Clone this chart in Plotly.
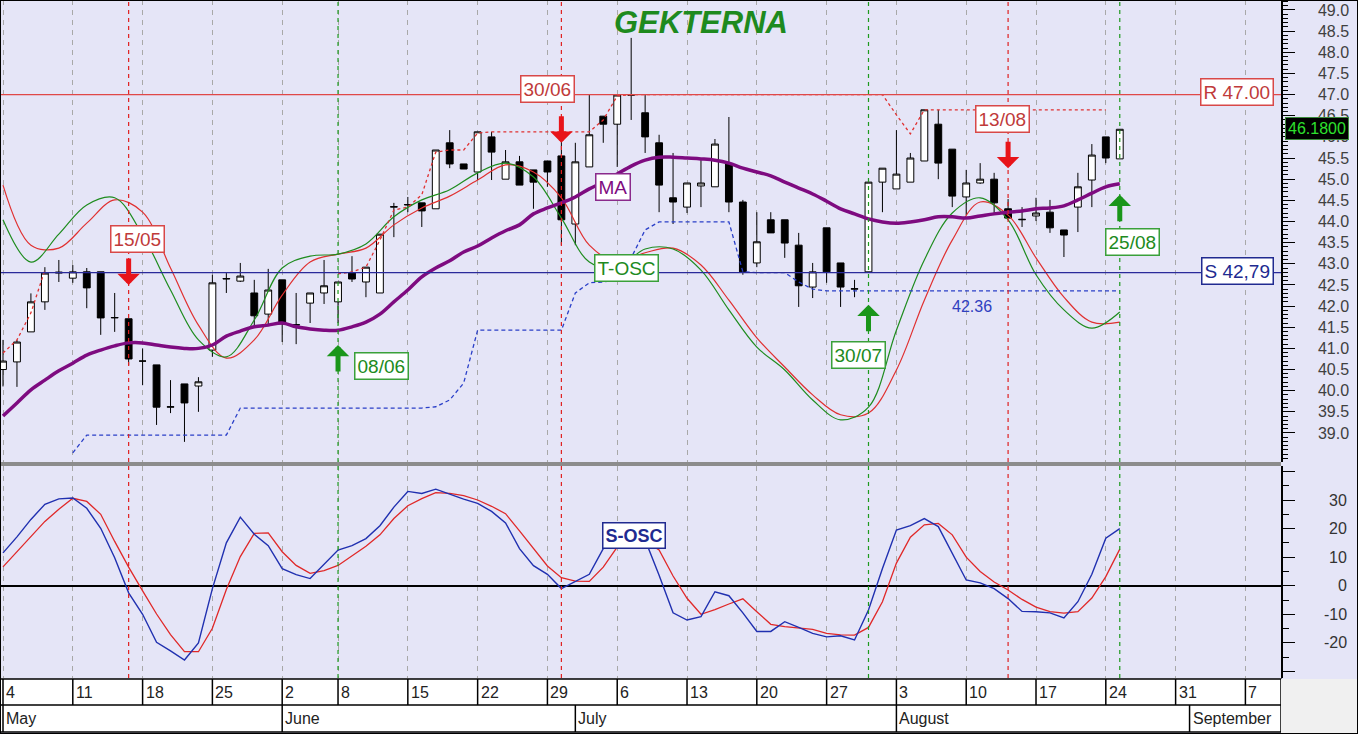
import plotly.graph_objs as go

# trading day index: 0 = Monday 4 May (June 1 holiday skipped)
week_idx = [0, 5, 10, 15, 20, 24, 29, 34, 39, 44, 49, 54, 59, 64, 69, 74, 79, 84, 89]
week_lbl = ['4', '11', '18', '25', '2', '8', '15', '22', '29', '6', '13', '20', '27',
            '3', '10', '17', '24', '31', '7']
month_idx = [0, 20, 41, 64, 85]
month_lbl = ['May', 'June', 'July', 'August', 'September']

opens = [40.50, 40.68, 41.39, 42.10, 42.78, 42.66, 42.81, 42.81, 41.72, 41.70,
         40.70, 40.61, 39.61, 40.16, 40.11, 40.96, 42.64, 42.59, 42.31, 41.81,
         42.62, 41.55, 42.07, 42.31, 42.10, 42.78, 42.57, 42.31, 44.34, 44.39,
         44.44, 44.30, 45.86, 45.36, 45.17, 46.00, 45.00, 45.41, 45.22, 45.43,
         45.55, 43.94, 45.29, 46.49, 46.30, 46.99, 46.57, 45.86, 44.56, 44.34,
         44.84, 44.82, 45.36, 44.46, 43.02, 44.04, 44.04, 43.44, 42.45, 43.85,
         43.02, 42.40, 42.81, 44.93, 44.77, 44.93, 45.43, 46.30, 45.71, 44.58,
         44.91, 45.00, 44.30, 44.04, 44.13, 44.22, 43.80, 44.34, 44.98, 46.00,
         45.48]
highs = [41.20, 41.20, 42.30, 42.92, 43.09, 42.97, 42.90, 42.81, 42.31, 41.70,
         41.00, 40.61, 40.25, 40.16, 40.32, 42.74, 42.78, 43.02, 42.62, 42.88,
         42.62, 42.31, 42.31, 43.09, 42.57, 43.18, 42.92, 43.70, 44.44, 44.58,
         44.44, 45.69, 46.16, 45.36, 46.12, 46.12, 45.69, 45.55, 45.22, 45.43,
         45.93, 45.86, 46.99, 46.49, 46.99, 48.34, 46.99, 46.05, 45.62, 44.91,
         45.45, 45.95, 46.47, 44.51, 44.22, 44.22, 44.04, 43.73, 43.02, 43.85,
         43.02, 42.62, 44.93, 45.26, 46.16, 45.62, 46.64, 46.64, 45.71, 45.22,
         45.38, 45.15, 44.53, 44.34, 44.56, 44.51, 43.80, 45.15, 45.83, 46.00,
         46.18]
lows = [40.10, 40.09, 41.39, 41.91, 42.57, 42.55, 41.95, 41.32, 41.39, 40.60,
        40.13, 39.19, 39.47, 38.79, 39.50, 40.80, 42.31, 42.57, 41.55, 41.55,
        41.15, 41.10, 41.60, 42.05, 41.60, 42.57, 42.21, 42.31, 43.63, 44.22,
        43.87, 44.30, 45.26, 45.24, 44.98, 44.98, 45.00, 44.86, 44.30, 44.82,
        43.44, 43.44, 45.29, 45.86, 45.29, 46.40, 45.62, 44.22, 43.94, 44.20,
        44.34, 44.82, 44.22, 42.74, 42.92, 43.73, 43.14, 41.98, 42.19, 42.55,
        41.98, 42.21, 42.81, 44.22, 44.77, 44.93, 45.43, 45.00, 44.34, 44.15,
        44.89, 44.20, 44.08, 43.87, 44.01, 43.73, 43.16, 43.75, 44.34, 45.38,
        45.48]
closes = [40.70, 41.15, 42.10, 42.78, 42.80, 42.81, 42.43, 41.72, 41.73, 40.75,
          40.70, 39.61, 39.62, 39.71, 40.21, 42.55, 42.65, 42.71, 41.77, 42.38,
          41.58, 41.56, 42.31, 42.48, 42.57, 42.64, 42.92, 43.70, 44.35, 44.40,
          44.25, 45.69, 45.36, 45.24, 46.12, 45.64, 45.41, 44.86, 44.93, 45.17,
          44.04, 45.41, 46.05, 46.30, 46.99, 46.99, 46.00, 44.86, 44.46, 44.91,
          44.91, 45.83, 44.46, 42.81, 43.52, 43.73, 43.49, 42.48, 42.81, 42.81,
          42.45, 42.41, 44.93, 45.26, 45.12, 45.50, 46.64, 45.38, 44.60, 44.91,
          45.00, 44.44, 44.08, 44.05, 44.20, 43.85, 43.68, 44.82, 45.57, 45.50,
          46.18]
ma = [39.40, 39.71, 40.02, 40.25, 40.47, 40.65, 40.84, 40.96, 41.06, 41.13,
      41.13, 41.08, 41.03, 41.00, 41.00, 41.08, 41.29, 41.41, 41.51, 41.55,
      41.60, 41.51, 41.46, 41.43, 41.43, 41.51, 41.62, 41.81, 42.10, 42.38,
      42.69, 42.90, 43.07, 43.28, 43.42, 43.61, 43.78, 43.92, 44.18, 44.32,
      44.44, 44.58, 44.77, 44.93, 45.12, 45.31, 45.45, 45.52, 45.52, 45.50,
      45.48, 45.45, 45.38, 45.26, 45.17, 45.08, 44.93, 44.79, 44.65, 44.48,
      44.30, 44.18, 44.06, 43.99, 43.96, 43.99, 44.04, 44.11, 44.11, 44.08,
      44.13, 44.18, 44.22, 44.25, 44.30, 44.32, 44.37, 44.51, 44.67, 44.82,
      44.89]

# T-OSC, read every second day
tosc_x = list(range(0, 81, 2))
tosc_fast = [44.04, 43.04, 43.70, 44.39, 44.56, 43.68, 42.38, 41.20, 40.80, 41.67,
             42.90, 43.18, 43.23, 43.47, 44.11, 44.51, 44.75, 45.15, 45.38, 45.05,
             44.08, 43.04, 42.90, 43.35, 43.35, 42.85, 41.91, 41.03, 40.49, 39.78,
             39.31, 39.61, 41.43, 43.09, 44.20, 44.56, 44.04, 42.74, 41.91, 41.48,
             41.86]
tosc_slow = [44.86, 43.44, 43.37, 43.96, 44.51, 44.22, 42.90, 41.55, 40.77, 41.20,
             42.26, 43.04, 43.23, 43.37, 43.92, 44.32, 44.60, 44.98, 45.34, 45.17,
             44.56, 43.44, 43.04, 43.26, 43.37, 42.97, 42.14, 41.25, 40.56, 39.90,
             39.43, 39.47, 40.49, 42.14, 43.56, 44.46, 44.15, 43.14, 42.21, 41.62,
             41.62]

# trailing support (blue dashed)
supp_x = list(range(5, 81))
supp = [38.53, 38.95, 38.95, 38.95, 38.95, 38.95, 38.95, 38.95, 38.95, 38.95,
        38.95, 38.95, 39.59, 39.59, 39.59, 39.59, 39.59, 39.59, 39.59, 39.59,
        39.59, 39.59, 39.59, 39.59, 39.59, 39.59, 39.62, 39.78, 40.18, 41.43,
        41.43, 41.43, 41.43, 41.43, 41.43, 41.43, 42.31, 42.55, 42.57, 42.62,
        43.14, 43.80, 43.99, 43.99, 43.99, 43.99, 43.99, 43.99, 42.81, 42.79,
        42.79, 42.79, 42.57, 42.40, 42.36, 42.36, 42.36, 42.36, 42.36, 42.36,
        42.36, 42.36, 42.36, 42.36, 42.36, 42.36, 42.36, 42.36, 42.36, 42.36,
        42.36, 42.36, 42.36, 42.36, 42.36, 42.36]
# trailing resistance (red dashed)
res_x = [0, 1, 2, 3, None] + list(range(24, 81))
res = [40.89, 41.20, 41.84, 42.85, None,
       42.76, 42.81, 42.92, 43.56, 44.27, 44.34, 44.63, 45.64, 45.69, 45.69,
       46.09, 46.12, 46.12, 46.12, 46.12, 46.12, 46.12, 46.12, 46.12, 46.40,
       46.97, 47.00, 47.00, 47.00, 47.00, 47.00, 47.00, 47.00, 47.00, 47.00,
       47.00, 47.00, 47.00, 47.00, 47.00, 47.00, 47.00, 47.00, 47.00, 47.00,
       46.52, 46.07, 46.64, 46.64, 46.64, 46.64, 46.64, 46.64, 46.64, 46.64,
       46.64, 46.64, 46.64, 46.64, 46.64, 46.64]

# S-OSC (lower panel)
sosc_fast = [11.5, 17.1, 23.2, 28.5, 30.4, 30.7, 27.1, 20.1, 9.8, -2.5,
             -10.0, -19.8, -22.8, -26.0, -20.0, -1.0, 15.0, 24.0, 18.0, 14.0,
             6.0, 3.9, 2.5, 7.6, 12.5, 14.0, 16.5, 21.0, 27.5, 33.0,
             32.3, 33.8, 32.0, 30.3, 28.8, 26.0, 22.0, 13.0, 7.0, 4.0,
             -1.0, 1.5, 4.0, 13.0, 20.0, 21.0, 16.0, 3.7, -9.5, -12.0,
             -10.8, -2.1, -3.5, -9.5, -16.0, -16.0, -12.6, -14.6, -16.7, -17.9,
             -17.5, -19.0, -8.5, 6.0, 19.5, 21.0, 23.5, 20.7, 11.5, 2.0,
             1.0, -1.0, -4.5, -9.0, -9.1, -9.5, -11.3, -5.6, 4.0, 16.6,
             20.0]
sosc_slow = [6.6, 11.9, 17.3, 22.5, 26.8, 30.6, 29.5, 25.0, 15.5, 6.5,
             -1.8, -9.9, -17.1, -23.1, -23.1, -14.9, -1.3, 10.2, 18.3, 18.5,
             11.9, 7.1, 4.3, 5.3, 7.1, 10.4, 13.8, 17.8, 23.5, 28.0,
             30.5, 32.6, 32.3, 31.5, 30.0, 27.8, 25.2, 19.2, 13.0, 6.9,
             2.8, 1.6, 1.5, 6.5, 13.5, 15.5, 15.5, 12.5, 3.4, -4.4,
             -10.0, -8.4, -6.4, -4.6, -9.1, -13.5, -14.3, -14.7, -15.3, -16.7,
             -17.2, -17.3, -14.6, -5.6, 7.9, 17.0, 21.3, 21.8, 17.8, 10.0,
             5.0, 1.3, -1.5, -4.8, -7.5, -9.1, -9.6, -9.1, -4.3, 3.2,
             12.8]

resistance_level = 47.00
support_level = 42.79
last_price = 46.18
stop_level = 42.36

sell_idx = [9, 40, 72]
sell_lbl = ['15/05', '30/06', '13/08']
sell_tip = [42.50, 45.86, 45.26]
buy_idx = [24, 62, 80]
buy_lbl = ['08/06', '30/07', '25/08']
buy_tip = [41.08, 42.03, 44.63]

osc_ticks = [-20, -10, 0, 10, 20, 30]

day = list(range(len(closes)))

W, H = 1358, 734
X_END = 1281 / W
UP = [1 - 462 / H, 1.0]
LOW = [1 - 678 / H, 1 - 466 / H]
x_range = [-0.215, 91.55]
FONT = 'Liberation Sans, Arial, sans-serif'
BG = '#E5E5F7'

traces = []
traces.append(go.Scatter(x=tosc_x, y=tosc_slow, mode='lines', line=dict(color='#E03030', width=1.2, shape='spline'),
                         hoverinfo='skip'))
traces.append(go.Scatter(x=tosc_x, y=tosc_fast, mode='lines', line=dict(color='#1E8C1E', width=1.2, shape='spline'),
                         hoverinfo='skip'))
traces.append(go.Scatter(x=supp_x, y=supp, mode='lines', line=dict(color='#2A3FC8', width=1.3, dash='4px,3px')))
traces.append(go.Scatter(x=res_x, y=res, mode='lines', line=dict(color='#E03030', width=1.3, dash='3px,3px')))
traces.append(go.Scatter(x=day, y=ma, mode='lines', line=dict(color='#7E0B80', width=3.5, shape='spline')))
traces.append(go.Candlestick(x=day, open=opens, high=highs, low=lows, close=closes,
                             increasing=dict(line=dict(color='black', width=1), fillcolor='white'),
                             decreasing=dict(line=dict(color='black', width=1), fillcolor='black'),
                             whiskerwidth=0))
traces.append(go.Scatter(x=day, y=sosc_slow, mode='lines', line=dict(color='#E02828', width=1.3),
                         xaxis='x2', yaxis='y2'))
traces.append(go.Scatter(x=day, y=sosc_fast, mode='lines', line=dict(color='#2030B0', width=1.4),
                         xaxis='x2', yaxis='y2'))

fig = go.Figure(data=traces)

shapes = []
# R / S levels
shapes.append(dict(type='line', xref='paper', yref='y', x0=0, x1=X_END, y0=resistance_level, y1=resistance_level,
                   line=dict(color='#E04848', width=1.3)))
shapes.append(dict(type='line', xref='paper', yref='y', x0=0, x1=X_END, y0=support_level, y1=support_level,
                   line=dict(color='#2A2A9A', width=1.3)))
# signal verticals through both panels
for i in sell_idx:
    shapes.append(dict(type='line', xref='x', yref='paper', x0=i, x1=i, y0=LOW[0], y1=1,
                       line=dict(color='#E02020', width=1.2, dash='4px,4px')))
for i in buy_idx:
    shapes.append(dict(type='line', xref='x', yref='paper', x0=i, x1=i, y0=LOW[0], y1=1,
                       line=dict(color='#1E9A1E', width=1.2, dash='4px,4px')))
# panel separator
shapes.append(dict(type='rect', xref='paper', yref='paper', x0=0, x1=X_END, y0=LOW[1], y1=UP[0],
                   fillcolor='#8C8C8C', line=dict(width=0)))
# date band
band_top = 1 - 679 / H
band_mid = 1 - 705 / H
band_bot = 1 - 732 / H
shapes.append(dict(type='rect', xref='paper', yref='paper', x0=0, x1=X_END, y0=band_bot, y1=band_top,
                   fillcolor='white', line=dict(color='black', width=1.5)))
shapes.append(dict(type='rect', xref='paper', yref='paper', x0=X_END, x1=1, y0=0, y1=band_top,
                   fillcolor='#F0F0F0', line=dict(width=0)))
shapes.append(dict(type='line', xref='paper', yref='paper', x0=0, x1=X_END, y0=band_mid, y1=band_mid,
                   line=dict(color='black', width=1.5)))
for i in week_idx:
    shapes.append(dict(type='line', xref='x2', yref='paper', x0=i, x1=i, y0=band_mid, y1=band_top,
                       line=dict(color='black', width=1.5)))
for i in month_idx:
    shapes.append(dict(type='line', xref='x2', yref='paper', x0=i, x1=i, y0=band_bot, y1=band_mid,
                       line=dict(color='black', width=1.5)))
# outer frame
shapes.append(dict(type='rect', xref='paper', yref='paper', x0=0, x1=1, y0=0, y1=1,
                   line=dict(color='black', width=2)))

ann = []
ann.append(dict(text='<b><i>GEKTERNA</i></b>', xref='paper', yref='paper', x=701 / W, y=1 - 22 / H,
                xanchor='center', yanchor='middle',
                showarrow=False, font=dict(family=FONT, size=31, color='#1E8A1E')))

# arrows
for i, tip in zip(sell_idx, sell_tip):
    ann.append(dict(x=i, y=tip, xref='x', yref='y', ax=0, ay=-28, text='', showarrow=True,
                    arrowhead=1, arrowsize=0.75, arrowwidth=5, arrowcolor='#E8141A'))
for i, tip in zip(buy_idx, buy_tip):
    ann.append(dict(x=i, y=tip, xref='x', yref='y', ax=0, ay=28, text='', showarrow=True,
                    arrowhead=1, arrowsize=0.75, arrowwidth=5, arrowcolor='#1A961A'))


def box(text, x, y, color, border, xref='x', yref='y', size=19, bold=False):
    t = '<b>%s</b>' % text if bold else text
    return dict(text=t, x=x, y=y, xref=xref, yref=yref, showarrow=False, bgcolor='white',
                xanchor='center', yanchor='middle',
                bordercolor=border, borderwidth=1.5, borderpad=2,
                font=dict(family=FONT, size=size, color=color))


sell_pos = [(9.6, 43.59), (39.0, 47.13), (71.6, 46.42)]
buy_pos = [(27.1, 40.58), (61.3, 40.84), (80.9, 43.52)]
for lbl, (px, py) in zip(sell_lbl, sell_pos):
    ann.append(box(lbl, px, py, '#C03A3A', '#D84848'))
for lbl, (px, py) in zip(buy_lbl, buy_pos):
    ann.append(box(lbl, px, py, '#208A20', '#3AA03A'))

ann.append(box('MA', 43.7, 44.82, '#7E0B80', '#8A2A8C'))
ann.append(box('T-OSC', 44.7, 42.90, '#208A20', '#3AA03A'))
ann.append(box('S-OSC', 45.2, 17.7, '#202A90', '#202A90', yref='y2', size=18, bold=True))
ann.append(box('R 47.00', 88.4, resistance_level + 0.07, '#C03A3A', '#D84848'))
ann.append(box('S 42,79', 88.4, support_level + 0.03, '#202A90', '#202A90'))
ann.append(dict(text='%.2f' % stop_level, x=69.4, y=41.98, xref='x', yref='y', showarrow=False,
                xanchor='center', yanchor='middle',
                font=dict(family=FONT, size=16, color='#3040C0')))
ann.append(dict(text='%.4f' % last_price, x=1317 / W, y=last_price + 0.03, xref='paper', yref='y',
                xanchor='center', yanchor='middle',
                showarrow=False, bgcolor='black', bordercolor='#3A8A3A', borderwidth=1, borderpad=2,
                font=dict(family=FONT, size=16, color='#2EE02E')))

# oscillator labels, right aligned
for v in osc_ticks:
    ann.append(dict(text=str(v), x=1349 / W, y=v, xref='paper', yref='y2', xanchor='right', yanchor='middle',
                    showarrow=False, font=dict(family=FONT, size=16, color='#333333')))

# date band labels
for i, lbl in zip(week_idx, week_lbl):
    ann.append(dict(text=lbl, x=i, y=(band_mid + band_top) / 2, xref='x2', yref='paper', xanchor='left',
                    yanchor='middle', xshift=1, showarrow=False,
                    font=dict(family=FONT, size=16, color='#222222')))
for i, lbl in zip(month_idx, month_lbl):
    ann.append(dict(text=lbl, x=i, y=(band_bot + band_mid) / 2, xref='x2', yref='paper', xanchor='left',
                    yanchor='middle', xshift=1, showarrow=False,
                    font=dict(family=FONT, size=16, color='#222222')))

grid = dict(tickvals=week_idx, showticklabels=False, ticks='', showgrid=True, gridcolor='#A8A8A8',
            griddash='5px,5px', gridwidth=1, zeroline=False, range=x_range, domain=[0, X_END])

fig.update_layout(
    width=W, height=H, margin=dict(l=0, r=0, t=0, b=0),
    paper_bgcolor=BG, plot_bgcolor=BG, showlegend=False,
    font=dict(family=FONT, size=16, color='#333333'),
    xaxis=dict(anchor='y', rangeslider=dict(visible=False), **grid),
    xaxis2=dict(anchor='y2', **grid),
    yaxis=dict(domain=UP, range=[38.314, 49.236], side='right', anchor='x',
               tickvals=[39 + 0.5 * k for k in range(21)], tickformat='.1f',
               ticks='outside', ticklen=12, tickcolor='black', ticklabelstandoff=20,
               tickfont=dict(family=FONT, size=16, color='#404040'),
               minor=dict(dtick=0.1, tick0=38.3, ticks='outside', ticklen=5, tickcolor='black', showgrid=False),
               showline=True, linecolor='black', linewidth=1.5, showgrid=False, zeroline=False),
    yaxis2=dict(domain=LOW, range=[-32.3, 41.9], side='right', anchor='x2',
                tickvals=[-30, -20, -10, 0, 10, 20, 30, 40], showticklabels=False,
                ticks='outside', ticklen=12, tickcolor='black',
                minor=dict(dtick=5, tick0=0, ticks='outside', ticklen=6, tickcolor='black', showgrid=False),
                showline=True, linecolor='black', linewidth=1.5, showgrid=False,
                zeroline=True, zerolinecolor='black', zerolinewidth=1.5),
    shapes=shapes, annotations=ann,
)

# page has a default 8px body margin; drop it so the figure fills the window
fig.write_html('out.html', config={'displayModeBar': False},
               post_script="document.body.style.margin='0px';")
